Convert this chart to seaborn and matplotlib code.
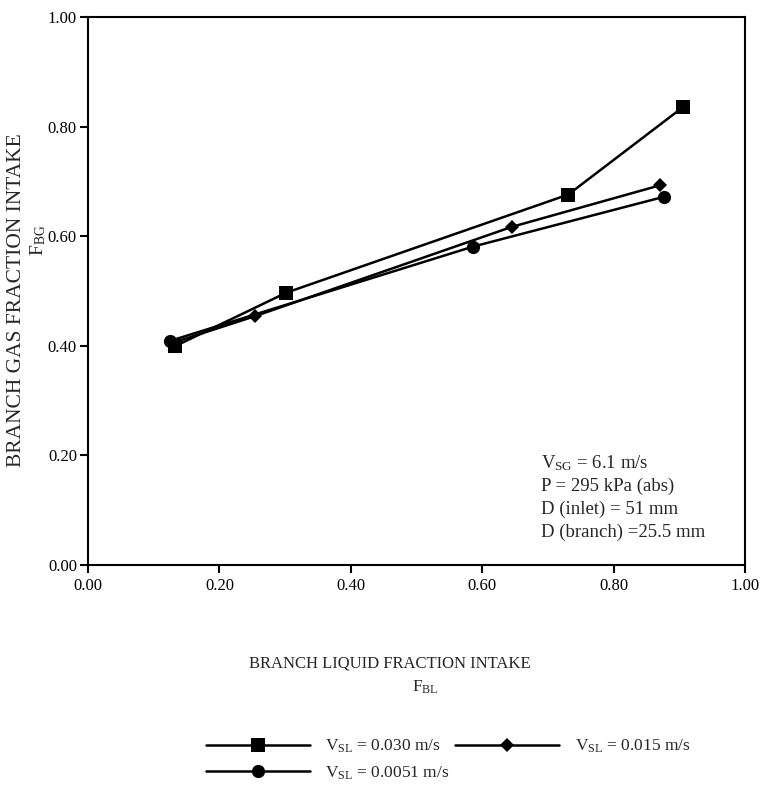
import matplotlib
matplotlib.use("Agg")
import matplotlib.pyplot as plt
import seaborn as sns
import pandas as pd

# branch liquid / gas fraction intake
fbl_030 = [0.132, 0.302, 0.731, 0.905]
fbg_030 = [0.399, 0.497, 0.676, 0.835]

fbl_015 = [0.128, 0.254, 0.645, 0.871]
fbg_015 = [0.405, 0.454, 0.617, 0.693]

fbl_0051 = [0.125, 0.586, 0.877]
fbg_0051 = [0.409, 0.581, 0.672]

series_labels = [r"$\mathrm{V_{SL}}$ = 0.030 m/s",
                 r"$\mathrm{V_{SL}}$ = 0.015 m/s",
                 r"$\mathrm{V_{SL}}$ = 0.0051 m/s"]
ticks = [0.0, 0.2, 0.4, 0.6, 0.8, 1.0]
tick_labels = ["0.00", "0.20", "0.40", "0.60", "0.80", "1.00"]

info_lines = [r"$\mathrm{V_{SG}}$ = 6.1 m/s",
              "P = 295 kPa (abs)",
              "D (inlet) = 51 mm",
              "D (branch) =25.5 mm"]

sns.set_style("ticks")
plt.rcParams["font.family"] = ["Liberation Serif", "DejaVu Serif"]
plt.rcParams["mathtext.fontset"] = "custom"
plt.rcParams["mathtext.rm"] = "Liberation Serif"
plt.rcParams["mathtext.it"] = "Liberation Serif:italic"

fig = plt.figure(figsize=(7.63, 8.0), dpi=100)
ax = fig.add_axes([88 / 763, 1 - 565 / 800, (745 - 88) / 763, (565 - 17) / 800])

df = pd.concat([
    pd.DataFrame({"FBL": fbl_030, "FBG": fbg_030, "s": series_labels[0]}),
    pd.DataFrame({"FBL": fbl_015, "FBG": fbg_015, "s": series_labels[1]}),
    pd.DataFrame({"FBL": fbl_0051, "FBG": fbg_0051, "s": series_labels[2]}),
])

sns.lineplot(data=df, x="FBL", y="FBG", hue="s", style="s",
             palette=["black"] * 3, dashes=False, markers=["s", "D", "o"],
             markersize=9, linewidth=1.8, markeredgewidth=0, sort=False,
             estimator=None, ax=ax)

msize = {"s": 9.5, "D": 7, "o": 9.5}
for ln in ax.lines:
    m = ln.get_marker()
    if m in msize:
        ln.set_markersize(msize[m])

ax.set_xlim(0, 1)
ax.set_ylim(0, 1)
ax.set_xticks(ticks)
ax.set_xticklabels(tick_labels)
ax.set_yticks(ticks)
ax.set_yticklabels(tick_labels)
ax.tick_params(direction="out", length=6, width=1.5, labelsize=12, colors="black")
ax.tick_params(axis="y", pad=2)
for sp in ax.spines.values():
    sp.set_linewidth(1.5)
    sp.set_color("black")

ax.set_xlabel("")
ax.set_ylabel("")
fig.text(390 / 763, 1 - 664 / 800, "BRANCH LIQUID FRACTION INTAKE",
         fontsize=12, ha="center", va="center")
fig.text(425 / 763, 1 - 687 / 800, r"$\mathrm{F_{BL}}$",
         fontsize=12.5, ha="center", va="center")
fig.text(17 / 763, 1 - 300 / 800, "BRANCH GAS FRACTION INTAKE",
         fontsize=15.5, ha="center", va="center", rotation=90)
fig.text(38 / 763, 1 - 240 / 800, r"$\mathrm{F_{BG}}$",
         fontsize=14, ha="center", va="center", rotation=90)

for i, line in enumerate(info_lines):
    ax.text(0.69, 0.186 - i * 0.042, line, fontsize=13.5, va="center", ha="left",
            transform=ax.transAxes)

handles, labels = ax.get_legend_handles_labels()
ax.get_legend().remove()
order = [0, 2, 1]
fig.legend([handles[i] for i in order], [labels[i] for i in order],
           ncol=2, frameon=False, fontsize=12.5, handlelength=6.0,
           loc="upper left", bbox_to_anchor=(190 / 763, 1 - 722 / 800),
           columnspacing=0.3, labelspacing=0.55, handletextpad=0.9)

fig.savefig("out.png", dpi=100)
